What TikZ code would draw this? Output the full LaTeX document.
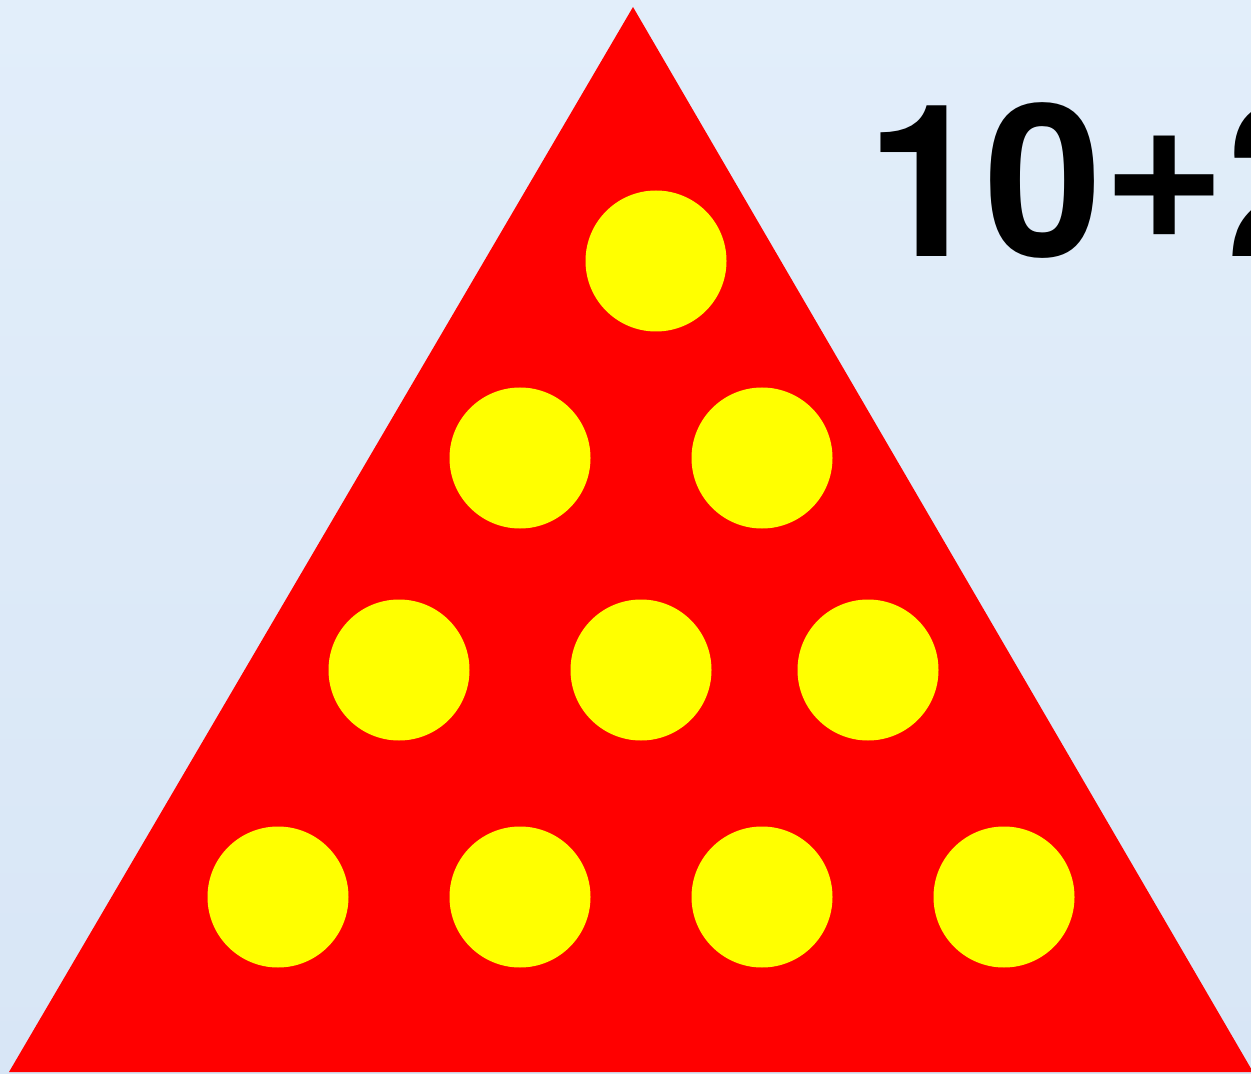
\documentclass[tikz,border=0pt]{standalone}
\usepackage{fontspec}
\setmainfont{Liberation Sans}
\newfontfamily\sumfont{TeX Gyre Heros}
\usepackage{tikz}
\usetikzlibrary{calc}

\definecolor{skyback}{RGB}{216,230,246}
\definecolor{skylight}{RGB}{226,238,250}
\definecolor{trired}{RGB}{255,0,0}
\definecolor{dotyellow}{RGB}{255,255,0}

\begin{document}
\begin{tikzpicture}[x=0.02cm,y=-0.02cm]
% Frame
\useasboundingbox (0,0) rectangle (1251,1074);
\clip (0,0) rectangle (1251,1074);
\shade[top color=skylight, bottom color=skyback] (0,0) rectangle (1251,1074);

% Triangle
\coordinate (apex) at (633,7);
\coordinate (left) at (9,1072);
\coordinate (right) at (1253,1072);
\fill[trired] (apex) -- (left) -- (right) -- cycle;

% Dots
\foreach \x/\y in {656/261, 520/458, 762/458, 399/670, 641/670, 868/670,
                   278/897, 520/897, 762/897, 1004/897}
    \fill[dotyellow] (\x,\y) circle (70.5);

% Label
\node[anchor=base west, inner sep=0pt, font=\sumfont\bfseries\fontsize{121}{121}\selectfont] (sum) at (866,257) {10\raisebox{0.38cm}{+}2};

\end{tikzpicture}
\end{document}
